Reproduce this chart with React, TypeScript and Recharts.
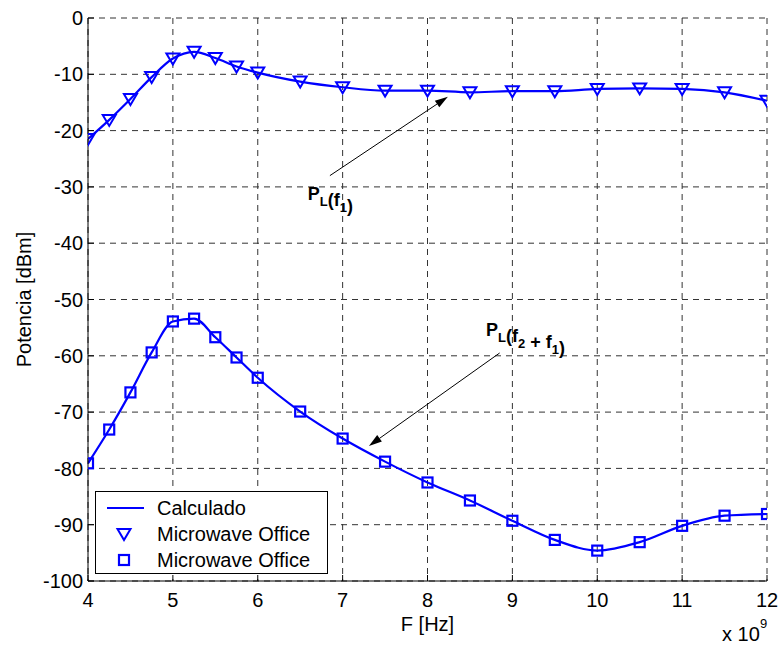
import React from "react"
import {
  LineChart,
  Line,
  XAxis,
  YAxis,
  CartesianGrid,
  ReferenceLine,
  ReferenceDot,
} from "recharts"

// frequency in units of 1e9 Hz
const freqs = [4, 4.25, 4.5, 4.75, 5, 5.25, 5.5, 5.75, 6, 6.5, 7, 7.5, 8, 8.5, 9, 9.5, 10, 10.5, 11, 11.5, 12]
const pf1 = [-21.5, -18.1, -14.4, -10.5, -7.2, -6.0, -7.1, -8.6, -9.7, -11.3, -12.3, -12.9, -12.9, -13.2, -13.0, -13.0, -12.6, -12.5, -12.6, -13.2, -14.7]
const pf21 = [-79.1, -73.1, -66.5, -59.4, -53.9, -53.4, -56.7, -60.3, -63.9, -69.9, -74.7, -78.8, -82.5, -85.7, -89.3, -92.7, -94.6, -93.1, -90.2, -88.4, -88.1]
const xTicks = [4, 5, 6, 7, 8, 9, 10, 11, 12]
const yTicks = [0, -10, -20, -30, -40, -50, -60, -70, -80, -90, -100]
const legendLabels = ["Calculado", "Microwave Office", "Microwave Office"]

const BLUE = "#0000ff"
const FONT = "Arial, 'Liberation Sans', sans-serif"

const data = freqs.map((f, i) => ({ f, pf1: pf1[i], pf21: pf21[i] }))

const Tri = ({ cx, cy }: { cx: number; cy: number }) => (
  <path
    d={`M${cx - 6.5},${cy - 5} L${cx + 6.5},${cy - 5} L${cx},${cy + 6} Z`}
    fill="none"
    stroke={BLUE}
    strokeWidth={2}
  />
)

const Sq = ({ cx, cy }: { cx: number; cy: number }) => (
  <rect x={cx - 5} y={cy - 5} width={10} height={10} fill="none" stroke={BLUE} strokeWidth={2.2} />
)

const Arrow = (p: any) => {
  const { x1, y1, x2, y2 } = p
  const a = Math.atan2(y2 - y1, x2 - x1)
  const L = 13
  const W = 4
  const bx = x2 - L * Math.cos(a)
  const by = y2 - L * Math.sin(a)
  const px = -Math.sin(a) * W
  const py = Math.cos(a) * W
  return (
    <g>
      <line x1={x1} y1={y1} x2={bx} y2={by} stroke="#000" strokeWidth={1} />
      <path d={`M${x2},${y2} L${bx + px},${by + py} L${bx - px},${by - py} Z`} fill="#000" />
    </g>
  )
}

const sub = (s: string) => (
  <>
    <tspan dy={6} fontSize={13}>{s}</tspan>
    <tspan dy={-6}></tspan>
  </>
)

const LabelF1 = (p: any) => (
  <text x={p.cx} y={p.cy} fontFamily={FONT} fontWeight="bold" fontSize={18} fill="#000">
    P{sub("L")}(f{sub("1")})
  </text>
)

const LabelF21 = (p: any) => (
  <text x={p.cx} y={p.cy} fontFamily={FONT} fontWeight="bold" fontSize={18} fill="#000">
    P{sub("L")}(f{sub("2")} + f{sub("1")})
  </text>
)

const XLabel = (p: any) => {
  const { x, y, width } = p.viewBox
  return (
    <g fontFamily={FONT} fill="#000">
      <text x={x + width / 2} y={y + 50} textAnchor="middle" fontSize={20}>
        F [Hz]
      </text>
      <text x={x + width - 45} y={y + 60} fontSize={20}>
        x 10
      </text>
      <text x={x + width - 7} y={y + 47} fontSize={13}>
        9
      </text>
    </g>
  )
}

const YLabel = (p: any) => {
  const { y, height } = p.viewBox
  const cy = y + height / 2
  return (
    <text
      x={24}
      y={cy}
      transform={`rotate(-90, 24, ${cy})`}
      textAnchor="middle"
      dominantBaseline="central"
      fontFamily={FONT}
      fontSize={20}
      fill="#000"
    >
      Potencia [dBm]
    </text>
  )
}

function LegendBox() {
  const top = 491
  const rows = [508, 534, 560]
  return (
    <svg width={234} height={84} style={{ position: "absolute", left: 95, top }}>
      <rect x={0.5} y={0.5} width={232} height={82} fill="#fff" stroke="#000" />
      <line x1={12} x2={49} y1={rows[0] - top} y2={rows[0] - top} stroke={BLUE} strokeWidth={2} />
      <Tri cx={29} cy={rows[1] - top} />
      <Sq cx={29} cy={rows[2] - top} />
      {legendLabels.map((t, i) => (
        <text
          key={i}
          x={62}
          y={rows[i] - top}
          dominantBaseline="central"
          fontFamily={FONT}
          fontSize={20}
          fill="#000"
        >
          {t}
        </text>
      ))}
    </svg>
  )
}

export default function App() {
  return (
    <div style={{ position: "absolute", left: 0, top: 0, width: 781, height: 646, background: "#fff" }}>
      <LineChart width={781} height={646} data={data} margin={{ top: 18, right: 14, left: 0, bottom: 0 }}>
        <CartesianGrid stroke="#333" strokeDasharray="6 5" />
        <XAxis
          dataKey="f"
          type="number"
          domain={[4, 12]}
          ticks={xTicks}
          allowDataOverflow
          height={65}
          tickSize={-6}
          tickMargin={18}
          stroke="#000"
          fontSize={20}
          fontFamily={FONT}
          tick={{ fill: "#000", fontSize: 20, fontFamily: FONT }}
          label={<XLabel />}
        />
        <XAxis
          xAxisId="top"
          dataKey="f"
          type="number"
          orientation="top"
          domain={[4, 12]}
          ticks={xTicks}
          allowDataOverflow
          height={0}
          tickSize={-6}
          tick={false}
          stroke="#000"
        />
        <YAxis
          type="number"
          domain={[-100, 0]}
          ticks={yTicks}
          allowDataOverflow
          width={88}
          tickSize={-6}
          tickMargin={11}
          stroke="#000"
          fontSize={20}
          fontFamily={FONT}
          tick={{ fill: "#000", fontSize: 20, fontFamily: FONT }}
          label={<YLabel />}
        />
        <YAxis
          yAxisId="right"
          type="number"
          orientation="right"
          domain={[-100, 0]}
          ticks={yTicks}
          allowDataOverflow
          width={0}
          tickSize={-6}
          tick={false}
          stroke="#000"
        />
        <Line
          dataKey="pf1"
          type="monotone"
          stroke={BLUE}
          strokeWidth={2.2}
          dot={false}
          isAnimationActive={false}
        />
        <Line
          dataKey="pf21"
          type="monotone"
          stroke={BLUE}
          strokeWidth={2.2}
          dot={false}
          isAnimationActive={false}
        />
        <Line
          dataKey="pf1"
          stroke="none"
          dot={(p: any) => <Tri key={`t${p.index}`} cx={p.cx} cy={p.cy} />}
          isAnimationActive={false}
        />
        <Line
          dataKey="pf21"
          stroke="none"
          dot={(p: any) => <Sq key={`s${p.index}`} cx={p.cx} cy={p.cy} />}
          isAnimationActive={false}
        />
        <ReferenceLine
          segment={[
            { x: 6.85, y: -28 },
            { x: 8.24, y: -14 },
          ]}
          shape={Arrow}
        />
        <ReferenceLine
          segment={[
            { x: 8.85, y: -59.5 },
            { x: 7.31, y: -76 },
          ]}
          shape={Arrow}
        />
        <ReferenceDot x={6.59} y={-32.3} r={0} shape={LabelF1} />
        <ReferenceDot x={8.69} y={-56.4} r={0} shape={LabelF21} />
      </LineChart>
      <LegendBox />
    </div>
  )
}
